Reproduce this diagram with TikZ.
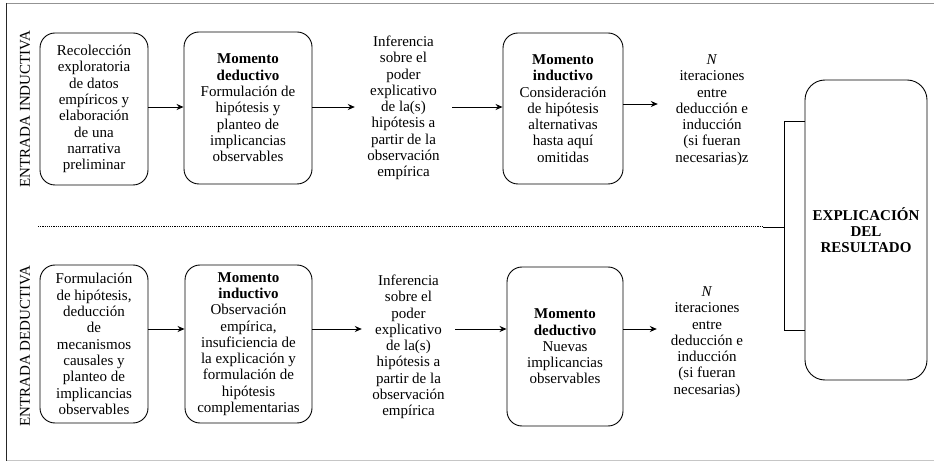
\documentclass[tikz,border=0pt]{standalone}
\usepackage{fontspec}
\setmainfont{Liberation Serif}
\usetikzlibrary{arrows.meta}
\tikzset{
  box/.style={draw, line width=0.9pt, rounded corners=15pt, align=center, inner sep=0pt, font=\fontsize{15}{16.3}\selectfont},
  txt/.style={align=center, inner sep=0pt, font=\fontsize{15}{16.3}\selectfont},
  side/.style={rotate=90, inner sep=0pt, font=\fontsize{15}{16}\selectfont},
  arr/.style={line width=0.9pt, -{Stealth[length=7pt,width=6pt]}},
  conn/.style={line width=0.9pt},
}
\begin{document}
\begin{tikzpicture}[x=1pt,y=-1pt]
\useasboundingbox (0,0) rectangle (934,462);
% frame
\draw[gray!85, line width=1.2pt] (6,3.5) -- (940,3.5);
\draw[gray!45, line width=1.2pt] (6,460.5) -- (940,460.5);
\draw[black!85, line width=0.9pt] (6,3) -- (6,461);
% side labels
\node[side] (si) at (25,109) {ENTRADA INDUCTIVA};
\node[side] (sd) at (25,346) {ENTRADA DEDUCTIVA};
% row coordinates
\coordinate (rowA) at (0,107);
\coordinate (rowA2) at (0,104);
\coordinate (rowB) at (0,329);
% top row
\node[box, minimum width=108pt, minimum height=152pt] (b1) at (94,109)
  {Recolección\\exploratoria\\de datos\\empíricos y\\elaboración\\de una\\narrativa\\preliminar};
\node[box, minimum width=128pt, minimum height=152pt] (b2) at (248,108)
  {\textbf{Momento}\\\textbf{deductivo}\\Formulación de\\hipótesis y\\planteo de\\implicancias\\observables};
\node[txt, minimum width=97pt] (i1) at (403.5,108)
  {Inferencia\\sobre el\\poder\\explicativo\\de la(s)\\hipótesis a\\partir de la\\observación\\empírica};
\node[box, minimum width=120pt, minimum height=151pt] (b3) at (563,108.5)
  {\textbf{Momento}\\\textbf{inductivo}\\Consideración\\de hipótesis\\alternativas\\hasta aquí\\omitidas};
\node[txt, minimum width=108pt] (n1) at (712,110)
  {\textit{N}\\iteraciones\\entre\\deducción e\\inducción\\(si fueran\\necesarias)z};
% bottom row
\node[box, minimum width=108pt, minimum height=158pt] (b4) at (94,344)
  {Formulación\\de hipótesis,\\deducción\\de\\mecanismos\\causales y\\planteo de\\implicancias\\observables};
\node[box, minimum width=127pt, minimum height=158pt] (b5) at (248.5,344)
  {\textbf{Momento}\\\textbf{inductivo}\\Observación\\empírica,\\insuficiencia de\\la explicación y\\formulación de\\hipótesis\\complementarias};
\node[txt, minimum width=93pt] (i2) at (408.5,347)
  {Inferencia\\sobre el\\poder\\explicativo\\de la(s)\\hipótesis a\\partir de la\\observación\\empírica};
\node[box, minimum width=116pt, minimum height=159pt] (b6) at (565,346.5)
  {\textbf{Momento}\\\textbf{deductivo}\\Nuevas\\implicancias\\observables};
\node[txt, minimum width=100pt] (n2) at (707,342)
  {\textit{N}\\iteraciones\\entre\\deducción e\\inducción\\(si fueran\\necesarias)};
% result
\node[box, rounded corners=20pt, minimum width=122pt, minimum height=300pt] (ex) at (866,230)
  {\textbf{EXPLICACIÓN}\\\textbf{DEL}\\\textbf{RESULTADO}};
% arrows top
\draw[arr] (b1.east |- rowA) -- (b2.west |- rowA);
\draw[arr] (b2.east |- rowA) -- (i1.west |- rowA);
\draw[arr] (i1.east |- rowA) -- (b3.west |- rowA);
\draw[arr] (b3.east |- rowA2) -- (n1.west |- rowA2);
% arrows bottom
\draw[arr] (b4.east |- rowB) -- (b5.west |- rowB);
\draw[arr] (b5.east |- rowB) -- (i2.west |- rowB);
\draw[arr] (i2.east |- rowB) -- (b6.west |- rowB);
\draw[arr] (b6.east |- rowB) -- (n2.west |- rowB);
% bracket to result
\coordinate (k1) at (784,121);
\coordinate (k2) at (784,330);
\draw[conn] (k1 -| ex.west) -- (k1) -- (k2) -- (k2 -| ex.west);
% dotted separator
\coordinate (d0) at (38,227);
\coordinate (d1) at (763,227);
\draw[line width=1pt, dash pattern=on 1.1pt off 1.1pt] (d0) -- (d1);
\draw[conn] (d1) -- (d1 -| k1);
\end{tikzpicture}
\end{document}
